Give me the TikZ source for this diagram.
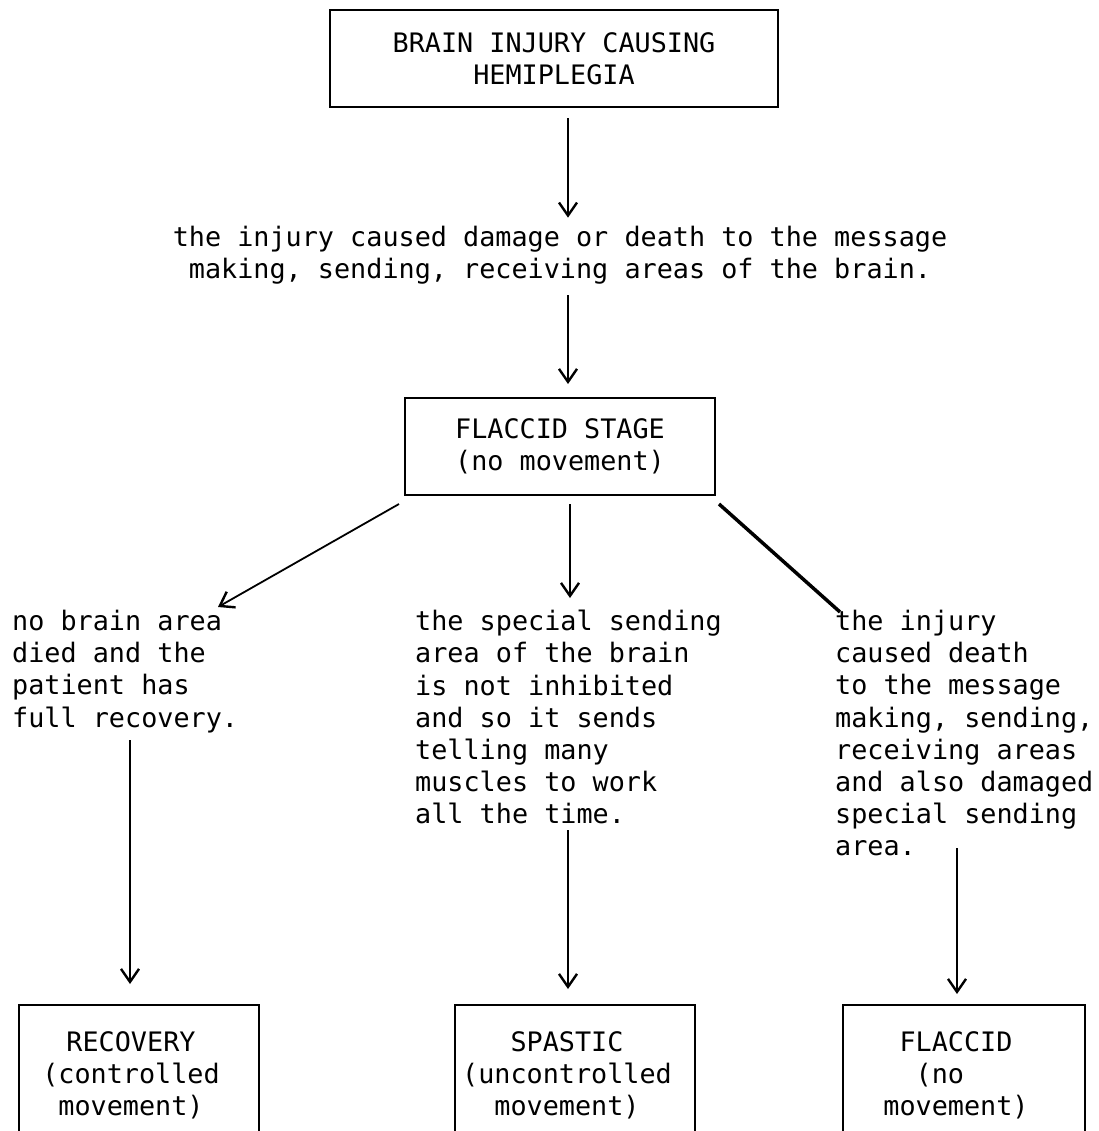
\documentclass[tikz,border=0pt]{standalone}
\usepackage{fontspec}
\setmonofont{DejaVu Sans Mono}
\usetikzlibrary{arrows.meta,calc}
\begin{document}
\begin{tikzpicture}[x=1bp,y=-1bp,
  every node/.style={font=\ttfamily\fontsize{26.9}{32.3}\selectfont, inner sep=0pt},
  box/.style={draw, line width=2bp},
  link/.style={line width=1.8bp},
  arr/.style={link, -{Straight Barb[length=13bp,width=18bp,line width=2.4bp]}},
  txt/.style={align=left, anchor=north west},
  endbox/.style={box, minimum height=140bp},
  inside/.style={align=center, xshift=-8bp}]
\clip (0,0) rectangle (1099,1131);

% boxes
\node[box, minimum width=448bp, minimum height=97bp, align=center] (injury) at (554,58.5)
  {BRAIN INJURY CAUSING\\HEMIPLEGIA};
\node[align=center] (damage) at (560,255)
  {the injury caused damage or death to the message\\making, sending, receiving areas of the brain.};
\node[box, minimum width=310bp, minimum height=97bp, align=center] (stage) at (560,446.5)
  {FLACCID STAGE\\(no movement)};

% the three outcomes
\node[txt] (full) at (12,610)
  {no brain area\\died and the\\patient has\\full recovery.};
\node[txt] (special) at (415,610)
  {the special sending\\area of the brain\\is not inhibited\\and so it sends\\telling many\\muscles to work\\all the time.};
\node[txt] (death) at (835,610)
  {the injury\\caused death\\to the message\\making, sending,\\receiving areas\\and also damaged\\special sending\\area.};

% final states (boxes run off the lower edge)
\node[endbox, minimum width=240bp,
  label={[inside]center:{RECOVERY\\(controlled\\movement)}}] (recovery) at (139,1075) {};
\node[endbox, minimum width=240bp,
  label={[inside]center:{SPASTIC\\(uncontrolled\\movement)}}] (spastic) at (575,1075) {};
\node[endbox, minimum width=242bp,
  label={[inside]center:{FLACCID\\(no\hphantom{xx}\\movement)}}] (flaccid) at (964,1075) {};

% connectors
\draw[arr] ($(injury.south)+(14,10)$) -- ($(damage.north)+(8,-8)$);
\draw[arr] ($(damage.south)+(8,11)$) -- ($(stage.north)+(8,-13)$);
\draw[arr] ($(stage.south)+(10,8)$) -- ($(special.north west)+(155,-12)$);
\draw[arr] ($(stage.south west)+(-5,8)$) -- ($(full.north west)+(206,-3)$);
\draw[link, line width=3.5bp] ($(stage.south east)+(3,8)$) -- ($(death.north west)+(5,2)$);
\draw[arr] ($(full.north west)+(118,130)$) -- ($(recovery.north)+(-9,-20)$);
\draw[arr] ($(special.north west)+(153,220)$) -- ($(spastic.north)+(-7,-15)$);
\draw[arr] ($(death.north west)+(122,238)$) -- ($(flaccid.north)+(-7,-10)$);
\end{tikzpicture}
\end{document}
